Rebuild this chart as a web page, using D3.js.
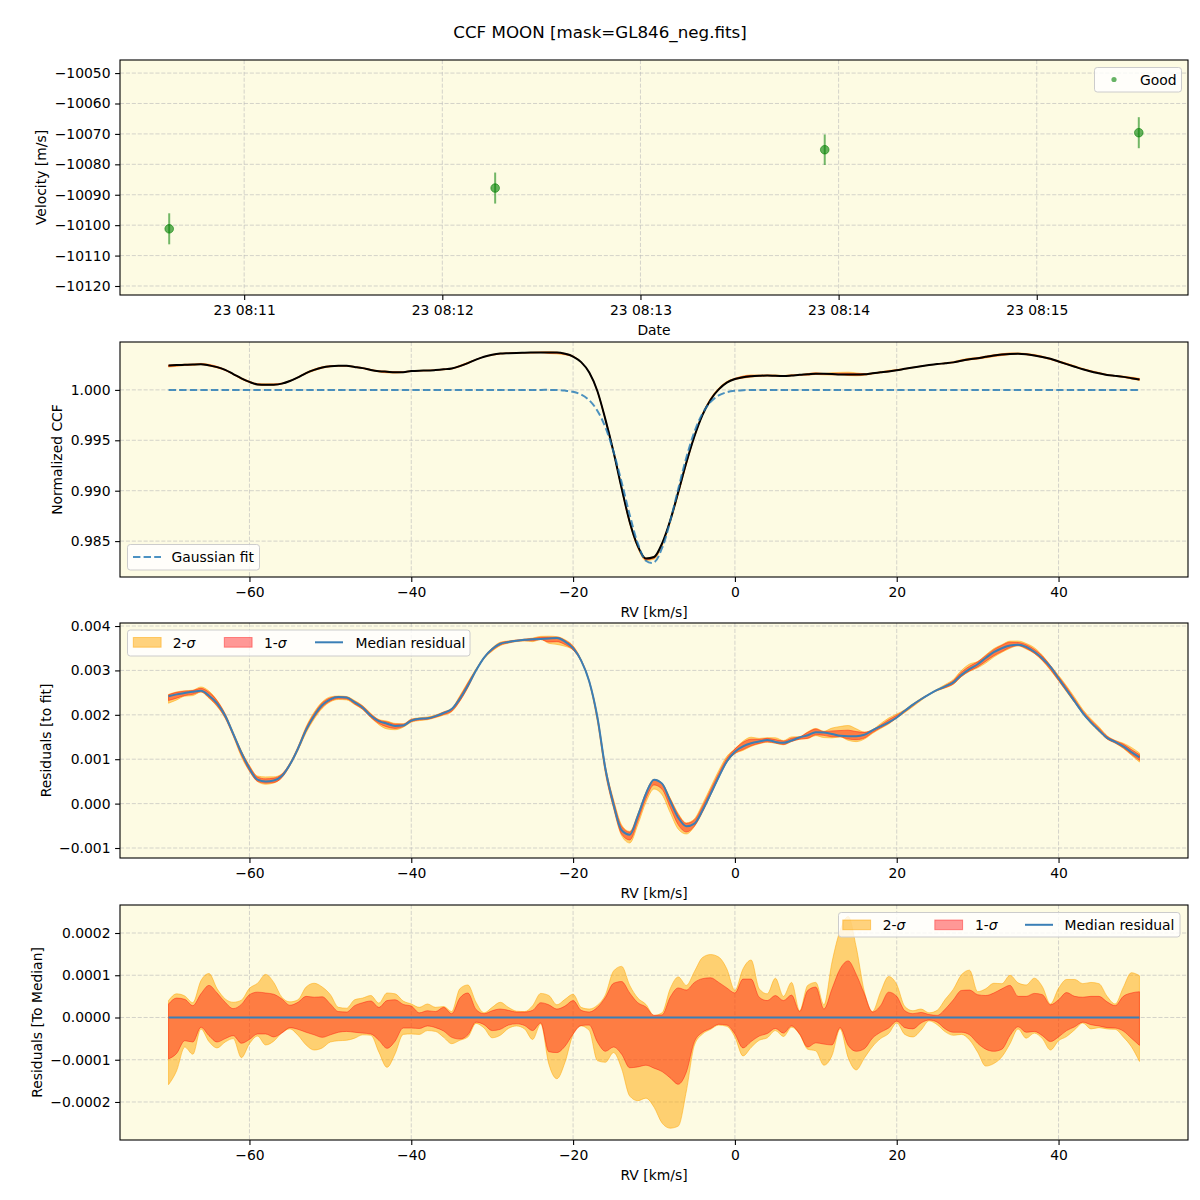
<!DOCTYPE html>
<html><head><meta charset="utf-8">
<script src="https://cdn.jsdelivr.net/npm/d3@7"></script>
<style>body{margin:0;background:#fff} svg{display:block} text{font-family:"DejaVu Sans",sans-serif;fill:#000}</style>
</head><body><svg id="c" width="1200" height="1200"></svg>
<script>
// ---------- DATA ----------
const chartTitle = "CCF MOON [mask=GL846_neg.fits]";
const obsTimes = ["2024-01-23T08:10:37.3Z", "2024-01-23T08:12:16.0Z", "2024-01-23T08:13:55.8Z", "2024-01-23T08:15:30.9Z"];
const velocities = [-10101.2, -10087.8, -10075.2, -10069.6];
const velocityErr = [5.1, 5.1, 5.0, 5.1];
const timeDomain = ["2024-01-23T08:10:22.4Z", "2024-01-23T08:15:45.8Z"];
const velTicks = [-10050, -10060, -10070, -10080, -10090, -10100, -10110, -10120];

const rvGrid = [-70,-69,-68,-67,-66,-65,-64,-63,-62,-61,-60,-59,-58,-57,-56,-55,-54,-53,-52,-51,
 -50,-49,-48,-47,-46,-45,-44,-43,-42,-41,-40,-39,-38,-37,-36,-35,-34,-33,-32,-31,
 -30,-29,-28,-27,-26,-25,-24,-23,-22,-21,-20,-19,-18,-17,-16,-15,-14,-13,-12,-11,
 -10,-9,-8,-7,-6,-5,-4,-3,-2,-1,0,1,2,3,4,5,6,7,8,9,10,11,12,13,14,15,16,17,18,19,
 20,21,22,23,24,25,26,27,28,29,30,31,32,33,34,35,36,37,38,39,40,41,42,43,44,45,46,47,48,49,50];
const rvTicks = [-60, -40, -20, 0, 20, 40];

// Gaussian fit (normalized CCF)
const gaussFit = [1,1,1,1,1,1,1,1,1,1, 1,1,1,1,1,1,1,1,1,1, 1,1,1,1,1,1,1,1,1,1, 1,1,1,1,1,1,1,1,1,1,
 1,1,1,1,1,1,1,1,0.99998,0.99993, 0.99981,0.99953,0.99897,0.99794,0.99627,0.99386,0.99084,0.98760,0.98478,0.98305,
 0.98288,0.98432,0.98698,0.99019,0.99330,0.99585,0.99767,0.99881,0.99945,0.99977,
 0.99991,0.99997,0.99999,1,1,1,1,1,1,1, 1,1,1,1,1,1,1,1,1,1, 1,1,1,1,1,1,1,1,1,1, 1,1,1,1,1,1,1,1,1,1, 1,1,1,1,1,1,1,1,1,1, 1];

// Median residual to fit (units of 1e-3)
const medianResidual = [2.42,2.46,2.49,2.52,2.54,2.43,2.26,1.98,1.57,1.15,
 0.79,0.54,0.50,0.52,0.62,0.88,1.24,1.66,1.98,2.22,
 2.35,2.40,2.39,2.28,2.16,1.98,1.86,1.80,1.75,1.76,
 1.87,1.91,1.92,1.97,2.04,2.13,2.36,2.66,3.00,3.29,
 3.48,3.60,3.64,3.67,3.69,3.70,3.71,3.72,3.73,3.65,
 3.50,3.22,2.75,1.95,0.78,-0.02,-0.60,-0.70,-0.28,0.22,
 0.54,0.45,0.06,-0.32,-0.51,-0.45,-0.15,0.22,0.60,0.95,
 1.17,1.29,1.36,1.40,1.43,1.39,1.37,1.42,1.49,1.54,
 1.61,1.60,1.57,1.53,1.52,1.52,1.55,1.65,1.74,1.83,
 1.94,2.09,2.23,2.35,2.46,2.56,2.64,2.73,2.90,3.03,
 3.14,3.28,3.41,3.50,3.56,3.58,3.53,3.42,3.27,3.08,
 2.82,2.56,2.30,2.04,1.83,1.65,1.48,1.39,1.29,1.16,
 1.04];

// Band offsets relative to median (units of 1e-5)
const sig2Upper = [4.0,5.6,5.1,3.5,8.7,10.4,6.8,4.4,3.6,4.1,
 6.9,8.1,10.2,8.3,4.8,3.7,4.2,7.2,8.1,7.2,
 5.4,2.4,2.2,4.2,4.6,5.2,3.4,5.8,5.6,3.9,
 3.2,2.4,3.2,2.4,2.6,1.4,6.8,7.7,3.6,1.1,
 2.4,3.6,2.4,1.5,1.4,2.8,5.7,5.2,3.0,4.3,
 5.5,2.4,2.0,2.9,5.4,11.0,12.1,7.6,4.6,3.1,
 0.5,1.1,6.8,9.6,7.6,10.9,14.2,14.9,14.3,11.5,
 6.4,11.5,13.6,6.8,5.6,9.3,5.0,8.3,1.6,7.6,
 8.3,3.0,13.1,20.6,23.9,16.6,6.1,1.4,6.0,9.7,
 7.8,2.6,1.6,2.0,1.1,1.7,4.3,6.7,10.1,11.2,
 6.1,6.8,8.1,8.0,10.0,8.2,7.7,9.3,7.3,3.2,
 6.9,9.0,9.0,8.0,8.3,8.0,5.0,3.2,7.1,10.6,
 9.9];
const sig1Upper = [3.2,4.6,4.3,2.8,5.6,7.6,5.8,3.6,2.1,3.1,
 5.4,6.0,5.8,5.5,4.4,2.9,3.6,5.0,4.8,4.9,
 3.2,1.4,1.3,2.8,3.5,3.9,2.4,4.0,4.2,3.1,
 2.7,1.1,1.6,1.4,2.4,0.9,4.6,5.8,1.9,0.9,
 1.6,2.0,1.7,1.3,1.3,1.7,3.5,3.0,2.0,2.7,
 4.0,1.7,1.3,2.4,4.8,8.1,8.5,5.8,3.5,2.5,
 0.5,0.6,4.8,7.0,6.5,8.3,9.2,9.4,8.3,7.0,
 5.8,9.1,9.1,4.8,4.0,5.2,4.0,5.3,1.4,6.4,
 7.2,2.0,6.8,11.5,13.4,10.2,5.6,1.3,2.8,6.0,
 5.0,1.6,0.9,1.2,0.7,0.5,2.0,4.2,6.4,6.5,
 5.4,5.2,5.8,6.8,7.6,5.0,5.0,5.7,5.4,3.0,
 4.2,5.9,5.0,4.8,5.0,5.0,3.7,2.8,5.0,5.8,
 6.1];
const sig1Lower = [-9.8,-8.5,-5.5,-5.8,-2.3,-4.3,-5.8,-5.0,-4.3,-6.1,
 -5.2,-3.9,-3.9,-4.6,-3.7,-2.4,-2.8,-3.5,-4.1,-4.7,
 -4.1,-3.5,-3.3,-3.5,-3.7,-3.9,-5.4,-7.3,-5.6,-2.5,
 -2.5,-2.6,-2.0,-2.4,-3.2,-4.7,-5.1,-4.1,-1.1,-1.7,
 -3.1,-2.8,-1.8,-1.5,-1.9,-3.1,-1.3,-8.1,-8.3,-6.8,
 -3.9,-1.9,-1.8,-5.8,-8.0,-7.0,-8.7,-11.9,-11.7,-11.3,
 -12.0,-12.8,-14.3,-15.8,-12.9,-5.7,-3.5,-2.6,-1.6,-1.8,
 -3.9,-7.2,-5.7,-4.4,-3.8,-2.6,-3.7,-2.0,-3.9,-7.0,
 -6.0,-6.3,-6.5,-2.4,-6.6,-8.0,-7.4,-4.9,-3.5,-2.5,
 -0.9,-2.4,-2.7,-1.3,-0.6,-1.1,-2.7,-3.5,-3.5,-4.1,
 -6.1,-7.5,-8.0,-7.5,-4.3,-2.2,-3.5,-3.3,-4.3,-5.7,
 -4.6,-3.1,-2.2,-1.1,-1.7,-2.0,-2.4,-2.5,-3.2,-4.9,
 -6.6];
const sig2Lower = [-15.9,-12.6,-7.0,-8.7,-2.7,-5.7,-7.2,-5.8,-5.0,-9.5,
 -6.2,-4.4,-6.5,-5.6,-3.6,-2.7,-4.2,-6.5,-7.7,-7.2,
 -5.8,-5.5,-5.4,-4.9,-4.1,-4.2,-8.2,-11.8,-8.6,-4.0,
 -3.9,-4.0,-3.1,-3.3,-4.7,-6.2,-5.4,-4.6,-1.4,-2.5,
 -4.8,-4.2,-2.6,-2.0,-2.7,-5.2,-1.5,-11.0,-14.5,-10.6,
 -4.0,-2.0,-3.1,-10.2,-10.6,-8.3,-12.1,-18.6,-19.7,-19.1,
 -21.2,-25.0,-26.2,-25.7,-17.4,-6.5,-3.9,-2.8,-1.8,-2.1,
 -4.6,-9.1,-7.1,-5.4,-4.8,-3.1,-4.5,-2.3,-4.0,-7.5,
 -7.9,-11.3,-9.0,-2.7,-9.5,-12.4,-9.6,-6.9,-5.0,-3.8,
 -1.3,-4.0,-4.6,-3.0,-0.8,-1.7,-3.4,-4.2,-4.0,-5.3,
 -8.2,-11.5,-10.9,-9.3,-6.2,-2.7,-4.9,-3.7,-5.0,-7.7,
 -5.5,-4.5,-2.9,-1.3,-2.7,-2.4,-2.7,-2.8,-4.6,-6.9,
 -10.4];
const medianUnit = 1e-3, sigmaUnit = 1e-5;

const ccfTicks = [1.000, 0.995, 0.990, 0.985];
const resTicks = [0.004, 0.003, 0.002, 0.001, 0.000, -0.001];
const medTicks = [0.0002, 0.0001, 0.0000, -0.0001, -0.0002];

// ---------- LAYOUT / STYLE ----------
const svg = d3.select("#c");
const L = 120, R = 1188;
const panels = [{top:60,bottom:295},{top:342,bottom:577},{top:623,bottom:858},{top:905,bottom:1140}];
const BG = "#fdfbe3";
const FS = 13.9;
const C_ORANGE = "orange", C_RED = "red", C_BLUE = "#1f77b4", C_MED = "#3a7fb6";

svg.append("rect").attr("width",1200).attr("height",1200).attr("fill","#fff");
svg.append("text").attr("x",600).attr("y",38).attr("text-anchor","middle")
  .style("font-size","16.7px").text(chartTitle);

const xRV = d3.scaleLinear().domain([-76, 56]).range([L, R]);
const xTime = d3.scaleUtc().domain(timeDomain.map(d => new Date(d))).range([L, R]);

function frame(p, yScale, yTickVals, xScale, xTickVals) {
  const g = svg.append("g");
  g.append("rect").attr("x",L).attr("y",p.top).attr("width",R-L).attr("height",p.bottom-p.top).attr("fill",BG);
  xTickVals.forEach(t => g.append("line").attr("x1",xScale(t)).attr("x2",xScale(t)).attr("y1",p.top).attr("y2",p.bottom)
    .attr("stroke","#b8b8b8").attr("stroke-opacity",0.75).attr("stroke-width",0.8).attr("stroke-dasharray","4.1,1.8"));
  yTickVals.forEach(t => g.append("line").attr("y1",yScale(t)).attr("y2",yScale(t)).attr("x1",L).attr("x2",R)
    .attr("stroke","#b8b8b8").attr("stroke-opacity",0.75).attr("stroke-width",0.8).attr("stroke-dasharray","4.1,1.8"));
  return g;
}
function axes(p, yScale, yTickVals, yFmt, xScale, xTickVals, xFmt, xLabel, yLabel, yLabelX) {
  const g = svg.append("g");
  g.append("rect").attr("x",L).attr("y",p.top).attr("width",R-L).attr("height",p.bottom-p.top)
    .attr("fill","none").attr("stroke","#000").attr("stroke-width",1.1);
  const ax = g.append("g").attr("transform",`translate(0,${p.bottom})`)
    .call(d3.axisBottom(xScale).tickValues(xTickVals).tickFormat(xFmt).tickSize(4.9).tickPadding(5.6));
  const ay = g.append("g").attr("transform",`translate(${L},0)`)
    .call(d3.axisLeft(yScale).tickValues(yTickVals).tickFormat(yFmt).tickSize(4.9).tickPadding(4.6));
  [ax, ay].forEach(a => {
    a.select(".domain").remove();
    a.selectAll("line").attr("stroke","#000").attr("stroke-width",1.1);
    a.selectAll("text").style("font-size",FS+"px").style("font-family","DejaVu Sans").attr("fill","#000");
  });
  g.append("text").attr("x",(L+R)/2).attr("y",p.bottom+40).attr("text-anchor","middle").style("font-size",FS+"px").text(xLabel);
  g.append("text").attr("transform",`translate(${yLabelX},${(p.top+p.bottom)/2}) rotate(-90)`)
    .attr("text-anchor","middle").style("font-size",FS+"px").text(yLabel);
}
function legendBox(x, y, w, h) {
  svg.append("rect").attr("x",x).attr("y",y).attr("width",w).attr("height",h).attr("rx",2.8)
    .attr("fill","#fff").attr("fill-opacity",0.8).attr("stroke","#cccccc").attr("stroke-width",1);
}
function legendText(x, y, t, italicSigma) {
  const tx = svg.append("text").attr("x",x).attr("y",y).style("font-size",FS+"px");
  if (italicSigma) { tx.append("tspan").text(t); tx.append("tspan").style("font-style","italic").text("σ"); }
  else tx.text(t);
}
function legendPatch(x, y, color, alpha) {
  svg.append("rect").attr("x",x).attr("y",y).attr("width",27.8).attr("height",9.7)
    .attr("fill",color).attr("fill-opacity",alpha).attr("stroke",color).attr("stroke-opacity",alpha).attr("stroke-width",1);
}

// ---------- PANEL 1 : velocities ----------
{
  const p = panels[0];
  const y = d3.scaleLinear().domain([-10122.96, -10045.7]).range([p.bottom, p.top]);
  const times = obsTimes.map(d => new Date(d));
  const minuteTicks = xTime.ticks(d3.utcMinute.every(1));
  frame(p, y, velTicks, xTime, minuteTicks);
  const g = svg.append("g");
  times.forEach((t, i) => {
    g.append("line").attr("x1",xTime(t)).attr("x2",xTime(t))
      .attr("y1",y(velocities[i]-velocityErr[i])).attr("y2",y(velocities[i]+velocityErr[i]))
      .attr("stroke","green").attr("stroke-opacity",0.55).attr("stroke-width",2);
    g.append("circle").attr("cx",xTime(t)).attr("cy",y(velocities[i])).attr("r",4.3)
      .attr("fill","green").attr("fill-opacity",0.6).attr("stroke","green").attr("stroke-opacity",0.6).attr("stroke-width",1);
  });
  axes(p, y, velTicks, d3.format("d"), xTime, minuteTicks, d3.utcFormat("%d %H:%M"), "Date", "Velocity [m/s]", 46);
  legendBox(1094.5, 67.5, 87, 24.5);
  svg.append("circle").attr("cx",1114).attr("cy",79.5).attr("r",2.6).attr("fill","green").attr("fill-opacity",0.6);
  legendText(1140, 84.5, "Good");
}

// ---------- shared band series ----------
const med = medianResidual.map(v => v * medianUnit);
const s2u = sig2Upper.map(v => v * sigmaUnit), s2l = sig2Lower.map(v => v * sigmaUnit);
const s1u = sig1Upper.map(v => v * sigmaUnit), s1l = sig1Lower.map(v => v * sigmaUnit);
const curve = d3.curveMonotoneX;

function bands(g, y, base) {
  const a2 = d3.area().curve(curve).x((d,i) => xRV(rvGrid[i])).y0((d,i) => y(base[i] + s2l[i])).y1((d,i) => y(base[i] + s2u[i]));
  const a1 = d3.area().curve(curve).x((d,i) => xRV(rvGrid[i])).y0((d,i) => y(base[i] + s1l[i])).y1((d,i) => y(base[i] + s1u[i]));
  g.append("path").attr("d", a2(rvGrid)).attr("fill",C_ORANGE).attr("fill-opacity",0.5)
    .attr("stroke",C_ORANGE).attr("stroke-opacity",0.5).attr("stroke-width",1);
  g.append("path").attr("d", a1(rvGrid)).attr("fill",C_RED).attr("fill-opacity",0.4)
    .attr("stroke",C_RED).attr("stroke-opacity",0.4).attr("stroke-width",1);
}

// ---------- PANEL 2 : normalized CCF ----------
{
  const p = panels[1];
  const y = d3.scaleLinear().domain([0.98144, 1.00475]).range([p.bottom, p.top]);
  frame(p, y, ccfTicks, xRV, rvTicks);
  const g = svg.append("g");
  const ccf = gaussFit.map((gv, i) => gv + med[i]);
  bands(g, y, ccf);
  const line = d3.line().curve(curve).x((d,i) => xRV(rvGrid[i]));
  g.append("path").attr("d", line.y((d,i) => y(ccf[i]))(rvGrid)).attr("fill","none").attr("stroke","#000").attr("stroke-width",2);
  g.append("path").attr("d", d3.line().curve(d3.curveCatmullRom).x((d,i) => xRV(rvGrid[i])).y((d,i) => y(gaussFit[i]))(rvGrid))
    .attr("fill","none").attr("stroke",C_BLUE).attr("stroke-opacity",0.8).attr("stroke-width",2).attr("stroke-dasharray","7.4,3.2");
  axes(p, y, ccfTicks, d3.format(".3f"), xRV, rvTicks, d3.format("d"), "RV [km/s]", "Normalized CCF", 62);
  legendBox(127.5, 544.5, 132, 25.5);
  svg.append("line").attr("x1",133).attr("x2",161).attr("y1",557).attr("y2",557)
    .attr("stroke",C_BLUE).attr("stroke-opacity",0.8).attr("stroke-width",2).attr("stroke-dasharray","7.4,3.2");
  legendText(171.5, 562, "Gaussian fit");
}

// ---------- PANEL 3 : residuals to fit ----------
{
  const p = panels[2];
  const y = d3.scaleLinear().domain([-0.001225, 0.004068]).range([p.bottom, p.top]);
  frame(p, y, resTicks, xRV, rvTicks);
  const g = svg.append("g");
  bands(g, y, med);
  g.append("path").attr("d", d3.line().curve(curve).x((d,i) => xRV(rvGrid[i])).y((d,i) => y(med[i]))(rvGrid))
    .attr("fill","none").attr("stroke",C_MED).attr("stroke-width",2);
  axes(p, y, resTicks, d3.format(".3f"), xRV, rvTicks, d3.format("d"), "RV [km/s]", "Residuals [to fit]", 51);
  legendBox(127.5, 630, 342.5, 26);
  legendPatch(133.3, 637.5, C_ORANGE, 0.5); legendText(172.7, 647.5, "2-", true);
  legendPatch(224.3, 637.5, C_RED, 0.4); legendText(264, 647.5, "1-", true);
  svg.append("line").attr("x1",315).attr("x2",343).attr("y1",642.3).attr("y2",642.3).attr("stroke",C_MED).attr("stroke-width",2);
  legendText(355.5, 647.5, "Median residual");
}

// ---------- PANEL 4 : residuals to median ----------
{
  const p = panels[3];
  const y = d3.scaleLinear().domain([-0.00029, 0.0002663]).range([p.bottom, p.top]);
  frame(p, y, medTicks, xRV, rvTicks);
  const g = svg.append("g");
  const zero = rvGrid.map(() => 0);
  bands(g, y, zero);
  g.append("path").attr("d", d3.line().x((d,i) => xRV(rvGrid[i])).y(() => y(0))(rvGrid))
    .attr("fill","none").attr("stroke",C_MED).attr("stroke-width",2);
  axes(p, y, medTicks, d3.format(".4f"), xRV, rvTicks, d3.format("d"), "RV [km/s]", "Residuals [To Median]", 42);
  legendBox(838.5, 912.5, 341.5, 24.5);
  legendPatch(842.8, 920, C_ORANGE, 0.5); legendText(882.7, 929.5, "2-", true);
  legendPatch(934.8, 920, C_RED, 0.4); legendText(975, 929.5, "1-", true);
  svg.append("line").attr("x1",1025).attr("x2",1053).attr("y1",924.8).attr("y2",924.8).attr("stroke",C_MED).attr("stroke-width",2);
  legendText(1064.5, 929.5, "Median residual");
}
</script></body></html>
